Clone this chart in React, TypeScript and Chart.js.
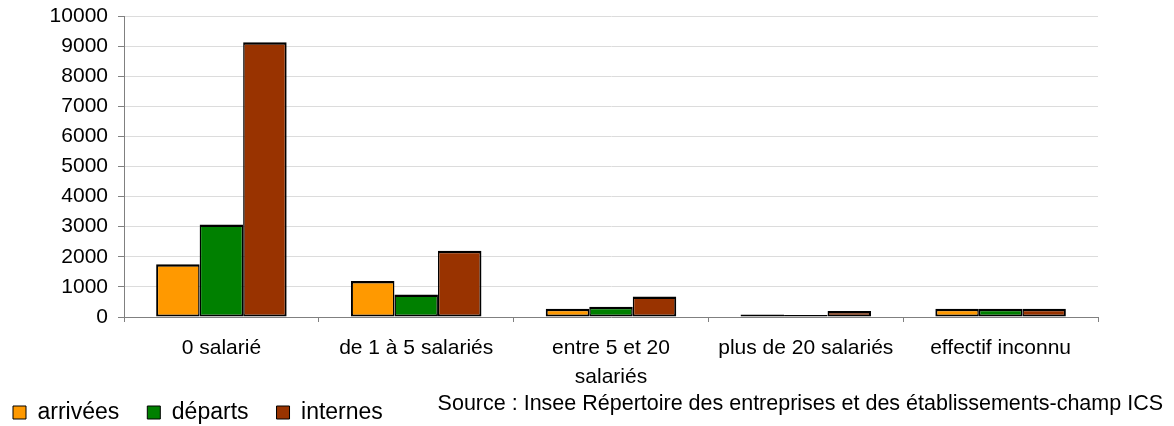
import React, { useEffect, useRef } from "react";
import { Chart, registerables } from "chart.js";

Chart.register(...registerables);

const categories: (string | string[])[] = [
  "0 salarié",
  "de 1 à 5 salariés",
  ["entre 5 et 20", "salariés"],
  "plus de 20 salariés",
  "effectif inconnu",
];
const arrivees = [1750, 1200, 270, 80, 270];
const departs = [3070, 750, 340, 70, 270];
const internes = [9130, 2200, 680, 200, 270];
const seriesNames = ["arrivées", "départs", "internes"];
const sourceText =
  "Source : Insee Répertoire des entreprises et des établissements-champ ICS";

const FONT = '"Liberation Sans", Arial, sans-serif';

export default function App() {
  const ref = useRef<HTMLCanvasElement | null>(null);

  useEffect(() => {
    if (!ref.current) return;
    const sourcePlugin = {
      id: "sourceText",
      afterLayout(chart: any) {
        const lg = chart.legend;
        if (lg) {
          lg.top += 8;
          lg.bottom += 8;
          lg.left -= 15;
        }
        const x = chart.scales.x;
        if (x) {
          x.bottom = chart.height;
          x.height = x.bottom - x.top;
        }
      },
      afterDraw(chart: any) {
        const ctx = chart.ctx;
        ctx.save();
        ctx.font = `21.5px ${FONT}`;
        ctx.fillStyle = "#000";
        ctx.textAlign = "right";
        ctx.textBaseline = "alphabetic";
        ctx.fillText(sourceText, 1163, 410);
        ctx.restore();
      },
    };
    const chart = new Chart(ref.current, {
      type: "bar",
      data: {
        labels: categories,
        datasets: [
          {
            label: seriesNames[0],
            data: arrivees,
            backgroundColor: "#FF9900",
            borderColor: "#000",
            borderWidth: { left: 2, right: 1.5, top: 2.5, bottom: 2 },
            borderSkipped: false,
          },
          {
            label: seriesNames[1],
            data: departs,
            backgroundColor: "#008000",
            borderColor: "#000",
            borderWidth: { left: 1.5, right: 1.5, top: 2.5, bottom: 2 },
            borderSkipped: false,
          },
          {
            label: seriesNames[2],
            data: internes,
            backgroundColor: "#993300",
            borderColor: "#000",
            borderWidth: { left: 1.5, right: 2, top: 2.5, bottom: 2 },
            borderSkipped: false,
          },
        ],
      },
      options: {
        animation: false,
        responsive: false,
        maintainAspectRatio: false,
        layout: { padding: { left: 0, right: 76, top: 16, bottom: 0 } },
        datasets: {
          bar: { categoryPercentage: 0.67, barPercentage: 1.0 },
        },
        plugins: {
          tooltip: { enabled: false },
          legend: {
            position: "bottom",
            align: "start",
            labels: {
              boxWidth: 13,
              boxHeight: 13,
              padding: 28,
              color: "#000",
              font: { family: FONT, size: 23 },
              generateLabels(chart: any) {
                const items = Chart.defaults.plugins.legend.labels.generateLabels(chart);
                items.forEach((it: any) => {
                  it.lineWidth = 1;
                  it.strokeStyle = "#000";
                });
                return items;
              },
            },
          },
        },
        scales: {
          x: {
            grid: {
              offset: true,
              drawOnChartArea: false,
              drawTicks: true,
              tickLength: 5,
              tickColor: "#808080",
            },
            border: { color: "#808080", width: 1 },
            ticks: {
              color: "#000",
              font: { family: FONT, size: 21, lineHeight: 1.38 },
              padding: 12,
              maxRotation: 0,
              autoSkip: false,
            },
            afterFit(scale: any) {
              scale.height = 48;
            },
          },
          y: {
            min: 0,
            max: 10000,
            ticks: {
              stepSize: 1000,
              color: "#000",
              font: { family: FONT, size: 21 },
              padding: 10,
              callback: (v: any) => String(v),
            },
            grid: {
              color: "#dcdcdc",
              tickColor: "#808080",
              tickLength: 6,
            },
            border: { color: "#808080", width: 1 },
            afterFit(scale: any) {
              scale.width = 124;
              scale.paddingTop = 0;
              scale.paddingBottom = 0;
            },
          },
        },
      },
      plugins: [sourcePlugin],
    });
    return () => chart.destroy();
  }, []);

  return (
    <div style={{ position: "absolute", left: 0, top: 0, width: 1174, height: 426, background: "#fff" }}>
      <canvas ref={ref} width={1174} height={426} style={{ width: 1174, height: 426 }} />
    </div>
  );
}
